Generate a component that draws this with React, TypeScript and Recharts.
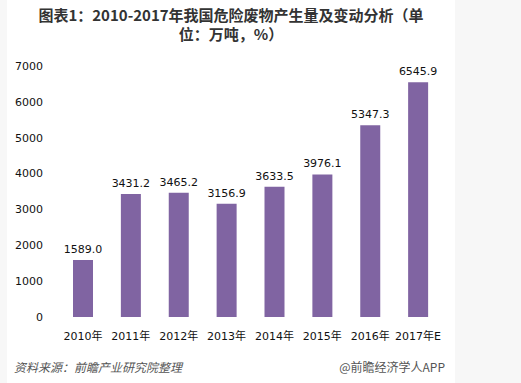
import React from "react";
import { BarChart, Bar, XAxis, YAxis, LabelList } from "recharts";

const categories = ["2010年", "2011年", "2012年", "2013年", "2014年", "2015年", "2016年", "2017年E"];
const values = [1589.0, 3431.2, 3465.2, 3156.9, 3633.5, 3976.1, 5347.3, 6545.9];
const yTicks = [0, 1000, 2000, 3000, 4000, 5000, 6000, 7000];

const data = categories.map((c, i) => ({ name: c, value: values[i] }));

const FONT = "'DejaVu Sans', 'Noto Sans CJK SC', sans-serif";
const CJK = "'Noto Sans CJK SC', sans-serif";

export default function App() {
  return (
    <div style={{ position: "absolute", left: 0, top: 0, width: 521, height: 383, background: "#f7f7f7", overflow: "hidden" }}>
      <div style={{ position: "absolute", left: 7, top: 0, width: 448, height: 383, background: "#ffffff" }} />
      <div
        style={{
          position: "absolute",
          left: 0,
          top: 5,
          width: 462,
          textAlign: "center",
          fontFamily: CJK,
          fontWeight: 700,
          fontSize: 15,
          lineHeight: "19px",
          color: "#333333",
        }}
      >
        <div>图表1：2010-2017年我国危险废物产生量及变动分析（单</div>
        <div>位：万吨，%）</div>
      </div>
      <div style={{ position: "absolute", left: 0, top: 0 }}>
        <BarChart width={521} height={383} data={data} margin={{ top: 66, right: 79, bottom: 36, left: 9 }}>
          <XAxis
            dataKey="name"
            axisLine={false}
            tickLine={false}
            interval={0}
            tick={{ fontSize: 11, fill: "#111111", fontFamily: FONT }}
            tickMargin={9}
          />
          <YAxis
            width={50}
            domain={[0, 7000]}
            ticks={yTicks}
            axisLine={false}
            tickLine={false}
            tick={{ fontSize: 11, fill: "#111111", fontFamily: FONT }}
            tickMargin={10}
          />
          <Bar dataKey="value" fill="#8064a2" barSize={20} isAnimationActive={false}>
            <LabelList
              dataKey="value"
              position="top"
              offset={7}
              formatter={(v: number) => v.toFixed(1)}
              style={{ fontSize: 11, fill: "#111111", fontFamily: FONT }}
            />
          </Bar>
        </BarChart>
      </div>
      <div
        style={{
          position: "absolute",
          left: 14,
          top: 358,
          fontFamily: CJK,
          fontStyle: "italic",
          fontSize: 12,
          color: "#555555",
        }}
      >
        资料来源：前瞻产业研究院整理
      </div>
      <div
        style={{
          position: "absolute",
          right: 76,
          top: 358,
          fontFamily: CJK,
          fontSize: 12,
          color: "#555555",
        }}
      >
        @前瞻经济学人APP
      </div>
    </div>
  );
}
